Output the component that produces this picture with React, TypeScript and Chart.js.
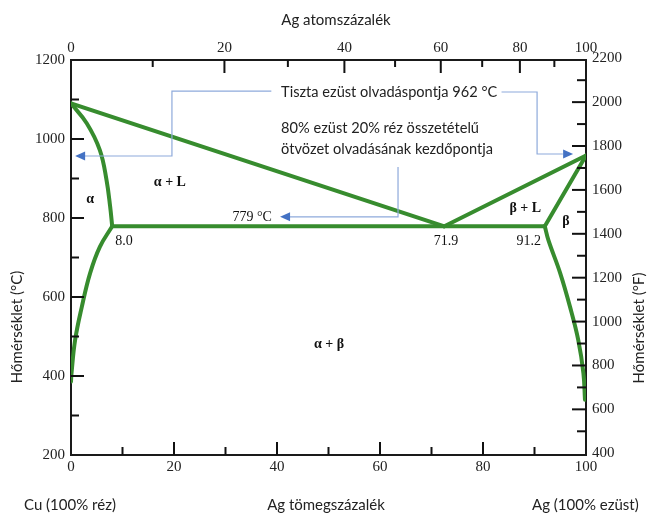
import React, { useEffect, useRef } from 'react';
import { Chart, registerables } from 'chart.js';

Chart.register(...registerables);

// ---- Data: weight % Ag (x) and temperature in °C (y) ----
const liquidusCuWt = [0, 72.5];
const liquidusCuT = [1090, 779];
const solidusAlphaWt = [0, 3.05, 5.6, 6.9, 7.6, 8.0];
const solidusAlphaT = [1090, 1040, 972, 896, 829, 779];
const solvusAlphaWt = [8.0, 5.6, 3.7, 2.1, 0.8, 0.1, 0];
const solvusAlphaT = [779, 727, 660, 575, 491, 407, 386];
const eutecticWt = [8.0, 92.0];
const eutecticT = [779, 779];
const liquidusAgWt = [72.5, 100];
const liquidusAgT = [779, 958];
const solidusBetaWt = [92.0, 100];
const solidusBetaT = [779, 958];
const solvusBetaWt = [92.0, 92.7, 95.0, 96.9, 98.5, 99.5, 99.8];
const solvusBetaT = [779, 744, 660, 575, 491, 407, 340];

// ---- Tick values ----
const wtTicks = [0, 10, 20, 30, 40, 50, 60, 70, 80, 90, 100];
const atomTicks = [0, 10, 20, 30, 40, 50, 60, 70, 80, 90, 100];
const celsiusTicks = [200, 300, 400, 500, 600, 700, 800, 900, 1000, 1100, 1200];
const fahrenheitTicks = [400, 500, 600, 700, 800, 900, 1000, 1100, 1200, 1300, 1400, 1500, 1600, 1700, 1800, 1900, 2000, 2100, 2200];

// ---- Text labels (data coordinates: wt%, °C) ----
const regionLabels = ['α', 'α + L', 'α + β', 'β + L', 'β'];
const regionWt = [3.7, 19.2, 50.1, 88.2, 96.1];
const regionT = [848, 891, 481, 825, 792];
const compLabels = ['8.0', '71.9', '91.2'];
const compWt = [10.3, 72.8, 88.9];
const compT = [742, 742, 742];

const M_AG = 107.87;
const M_CU = 63.55;
const atomToWt = (a: number) => (a * M_AG) / (a * M_AG + (100 - a) * M_CU) * 100;
const cToF = (c: number) => c * 1.8 + 32;

const GREEN = '#378c2e';
const AXIS = '#1a1a1a';
const TICK = '#111111';
const BLUE_LINE = '#8eaadb';
const BLUE_HEAD = '#4472c4';
const SERIF = '"Liberation Serif", "DejaVu Serif", serif';
const SANS = 'Lato, "Open Sans", sans-serif';

const pts = (xs: number[], ys: number[]) => xs.map((x, i) => ({ x, y: ys[i] }));

const lineDs = (xs: number[], ys: number[], tension: number) => ({
  data: pts(xs, ys),
  borderColor: GREEN,
  borderWidth: 4,
  pointRadius: 0,
  fill: false,
  tension,
  borderCapStyle: 'round' as const,
  borderJoinStyle: 'round' as const,
});

const decorPlugin = {
  id: 'decor',
  afterDraw(chart: any) {
    const ctx = chart.ctx;
    const ca = chart.chartArea;
    const sx = chart.scales['x'], sy = chart.scales['y'];
    const sx2 = chart.scales['x2'], sy2 = chart.scales['y2'];
    const px = (w: number) => sx.getPixelForValue(w);
    const py = (c: number) => sy.getPixelForValue(c);

    // inward tick marks
    ctx.save();
    ctx.strokeStyle = TICK;
    ctx.lineWidth = 2;
    wtTicks.forEach((v) => {
      if (v === 0 || v === 100) return;
      const p = sx.getPixelForValue(v);
      const len = v % 20 === 0 ? 13 : 8;
      ctx.beginPath(); ctx.moveTo(p, ca.bottom); ctx.lineTo(p, ca.bottom - len); ctx.stroke();
    });
    atomTicks.forEach((a) => {
      if (a === 0 || a === 100) return;
      const p = sx2.getPixelForValue(atomToWt(a));
      const len = a % 20 === 0 ? 13 : 7;
      ctx.beginPath(); ctx.moveTo(p, ca.top); ctx.lineTo(p, ca.top + len); ctx.stroke();
    });
    celsiusTicks.forEach((v) => {
      if (v === 200 || v === 1200) return;
      const p = sy.getPixelForValue(v);
      const len = v % 200 === 0 ? 13 : 8;
      ctx.beginPath(); ctx.moveTo(ca.left, p); ctx.lineTo(ca.left + len, p); ctx.stroke();
    });
    fahrenheitTicks.forEach((v) => {
      const p = sy2.getPixelForValue(v);
      if (p < ca.top + 2 || p > ca.bottom - 2) return;
      const len = v % 200 === 0 ? 14 : 9;
      ctx.beginPath(); ctx.moveTo(ca.right, p); ctx.lineTo(ca.right - len, p); ctx.stroke();
    });
    ctx.restore();

    ctx.save();
    // region labels
    ctx.fillStyle = '#111';
    ctx.textAlign = 'center';
    ctx.textBaseline = 'middle';
    ctx.font = `bold 14px ${SERIF}`;
    regionLabels.forEach((s, i) => ctx.fillText(s, px(regionWt[i]), py(regionT[i])));
    ctx.font = `14px ${SERIF}`;
    compLabels.forEach((s, i) => ctx.fillText(s, px(compWt[i]), py(compT[i])));
    ctx.textAlign = 'right';
    ctx.fillText('779 °C', px(39.0), py(802));

    // annotation arrows
    const poly = (p: number[][]) => {
      ctx.beginPath();
      ctx.moveTo(px(p[0][0]), py(p[0][1]));
      for (let i = 1; i < p.length; i++) ctx.lineTo(px(p[i][0]), py(p[i][1]));
      ctx.stroke();
    };
    const head = (w: number, c: number, dir: number) => {
      const x = px(w), y = py(c);
      ctx.beginPath();
      ctx.moveTo(x, y);
      ctx.lineTo(x - dir * 10, y - 4.5);
      ctx.lineTo(x - dir * 10, y + 4.5);
      ctx.closePath();
      ctx.fill();
    };
    ctx.strokeStyle = BLUE_LINE;
    ctx.fillStyle = BLUE_HEAD;
    ctx.lineWidth = 1.2;
    poly([[38.9, 1121], [19.6, 1121], [19.6, 957], [2.0, 957]]);
    head(0.8, 957, -1);
    poly([[83.6, 1119], [90.5, 1119], [90.5, 962], [95.5, 962]]);
    head(97.5, 962, 1);
    poly([[63.5, 929], [63.5, 803], [42.5, 803]]);
    head(40.6, 803, -1);

    // annotation texts
    ctx.fillStyle = '#222';
    ctx.textAlign = 'left';
    ctx.font = `14.6px ${SANS}`;
    ctx.fillText('Tiszta ezüst olvadáspontja 962 °C', px(40.8), py(1119));
    ctx.fillText('80% ezüst 20% réz összetételű', px(40.8), py(1028));
    ctx.fillText('ötvözet olvadásának kezdőpontja', px(40.8), py(975));

    // axis titles
    ctx.font = `15px ${SANS}`;
    ctx.textAlign = 'center';
    ctx.fillText('Ag atomszázalék', 336, 20);
    ctx.fillText('Ag tömegszázalék', 326, 505);
    ctx.textAlign = 'left';
    ctx.fillText('Cu (100% réz)', 24, 505);
    ctx.fillText('Ag (100% ezüst)', 532, 505);
    ctx.textAlign = 'center';
    ctx.save();
    ctx.translate(17, 327);
    ctx.rotate(-Math.PI / 2);
    ctx.fillText('Hőmérséklet (°C)', 0, 0);
    ctx.restore();
    ctx.save();
    ctx.translate(639, 328);
    ctx.rotate(-Math.PI / 2);
    ctx.fillText('Hőmérséklet (°F)', 0, 0);
    ctx.restore();

    ctx.restore();
  },
};

const fixSize = (prop: 'width' | 'height', size: number) => (scale: any) => {
  scale[prop] = size;
  scale.paddingLeft = 0;
  scale.paddingRight = 0;
  scale.paddingTop = 0;
  scale.paddingBottom = 0;
};

export default function App() {
  const ref = useRef<HTMLCanvasElement | null>(null);
  useEffect(() => {
    document.body.style.margin = '0';
    if (!ref.current) return;
    const tickFont = { family: SERIF, size: 15 };
    const border = { display: true, color: AXIS, width: 2 };
    const grid = { display: false, drawTicks: false };
    const chart = new Chart(ref.current, {
      type: 'line',
      data: {
        datasets: [
          lineDs(liquidusCuWt, liquidusCuT, 0),
          lineDs(solidusAlphaWt, solidusAlphaT, 0.4),
          lineDs(solvusAlphaWt, solvusAlphaT, 0.4),
          lineDs(eutecticWt, eutecticT, 0),
          lineDs(liquidusAgWt, liquidusAgT, 0),
          lineDs(solidusBetaWt, solidusBetaT, 0),
          lineDs(solvusBetaWt, solvusBetaT, 0.4),
        ] as any,
      },
      options: {
        animation: false,
        responsive: false,
        events: [],
        layout: { padding: 0 },
        plugins: { legend: { display: false }, tooltip: { enabled: false } },
        scales: {
          x: {
            type: 'linear', position: 'bottom', min: 0, max: 100,
            grid, border,
            afterBuildTicks: (s: any) => { s.ticks = wtTicks.map((v) => ({ value: v })); },
            ticks: {
              autoSkip: false, maxRotation: 0, padding: 3, color: '#222', font: tickFont,
              callback: (v: any) => (Number(v) % 20 === 0 ? String(v) : ''),
            },
            afterFit: fixSize('height', 58),
          },
          x2: {
            type: 'linear', position: 'top', min: 0, max: 100,
            grid, border,
            afterBuildTicks: (s: any) => { s.ticks = atomTicks.map((a) => ({ value: atomToWt(a) })); },
            ticks: {
              autoSkip: false, maxRotation: 0, padding: 3, color: '#222', font: tickFont,
              callback: (_v: any, i: number) => (atomTicks[i] % 20 === 0 ? String(atomTicks[i]) : ''),
            },
            afterFit: fixSize('height', 60),
          },
          y: {
            type: 'linear', position: 'left', min: 200, max: 1200,
            grid, border,
            afterBuildTicks: (s: any) => { s.ticks = celsiusTicks.map((v) => ({ value: v })); },
            ticks: {
              autoSkip: false, padding: 6, color: '#222', font: tickFont,
              callback: (v: any) => (Number(v) % 200 === 0 ? String(v) : ''),
            },
            afterFit: fixSize('width', 71),
          },
          y2: {
            type: 'linear', position: 'right', min: cToF(200), max: cToF(1200),
            grid, border,
            afterBuildTicks: (s: any) => { s.ticks = fahrenheitTicks.map((v) => ({ value: v })); },
            ticks: {
              autoSkip: false, padding: 6, color: '#222', font: tickFont,
              callback: (v: any) => (Number(v) % 200 === 0 ? String(v) : ''),
            },
            afterFit: fixSize('width', 61),
          },
        },
      } as any,
      plugins: [decorPlugin],
    });
    return () => chart.destroy();
  }, []);
  return (
    <div style={{ position: 'absolute', left: 0, top: 0, width: 647, height: 513, background: '#fff' }}>
      <canvas ref={ref} width={647} height={513} />
    </div>
  );
}
